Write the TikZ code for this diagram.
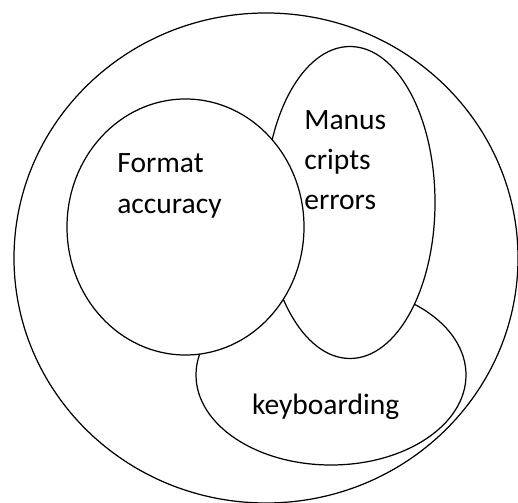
\documentclass[tikz,border=0pt]{standalone}
\usepackage{fontspec}
\setmainfont{Carlito}
\usepackage{tikz}
\usetikzlibrary{positioning}

\tikzset{
  setshape/.style={draw, fill=white, line width=0.7pt},
  settext/.style={anchor=base west, inner sep=0pt, align=left,
    font=\fontsize{16.8}{23}\selectfont}
}

\begin{document}
\begin{tikzpicture}[scale=1]
        % Fix the page size
        \useasboundingbox (0,0) rectangle (10.36,10.04);

        % Outer set
        \draw[setshape] (5.32,4.88) ellipse (5.04 and 4.90);

        % Keyboarding set (lowest of the three inner sets)
        \draw[setshape] (6.62,2.54) ellipse (2.70 and 1.80);

        % Manuscripts set, on top of keyboarding
        \draw[setshape] (7.00,5.99) ellipse (1.70 and 3.12);

        % Format set, on top of the others
        \draw[setshape] (3.71,5.50) ellipse (2.37 and 2.56);

        % Set names (anchored at the baseline of the last line)
        \node[settext] (format) at (2.34,5.774) {Format\\accuracy};
        \node[settext] (manus) at (6.08,5.84) {Manus\\cripts\\errors};
        \node[settext] (keyb) at (5.034,1.74) {keyboarding};
    \end{tikzpicture}
\end{document}
